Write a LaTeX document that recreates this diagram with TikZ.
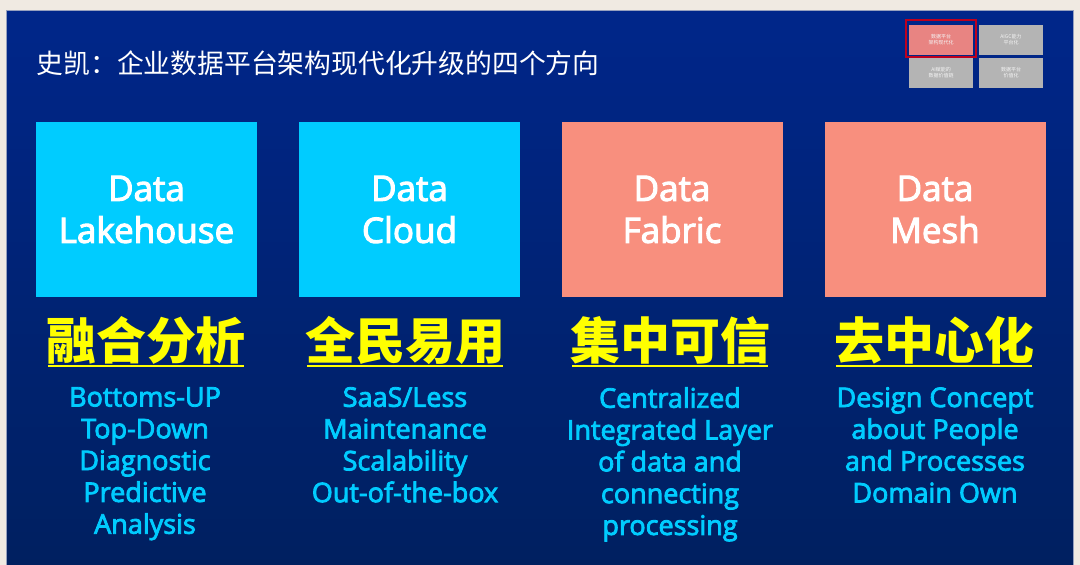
\documentclass[tikz,border=0pt]{standalone}
\usepackage{fontspec}
\setmainfont{Open Sans}
\newfontfamily\sbfont[FakeBold=3]{Open Sans}
\newfontfamily\cjk{Noto Sans CJK SC}
\definecolor{bgbeige}{RGB}{240,234,226}
\definecolor{slidetop}{RGB}{0,38,138}
\definecolor{slidebot}{RGB}{0,32,96}
\definecolor{slideedge}{RGB}{150,160,190}
\definecolor{cyanbox}{RGB}{0,204,255}
\definecolor{salmonbox}{RGB}{248,143,126}
\definecolor{cyantext}{RGB}{0,204,255}
\definecolor{headyellow}{RGB}{255,255,0}
\definecolor{thumbgrey}{RGB}{180,180,180}
\definecolor{thumbpink}{RGB}{232,132,130}
\definecolor{thumbred}{RGB}{190,0,30}
\begin{document}
\begin{tikzpicture}[x=1pt,y=-1pt,
  bigbox/.style={minimum width=221pt, minimum height=175pt, inner sep=0pt, text=white,
    font=\sbfont\fontsize{35}{42}\selectfont, align=center},
  head/.style={inner sep=0pt, text=headyellow, font=\cjk\bfseries\fontsize{50}{50}\selectfont, anchor=base},
  uline/.style={headyellow, line width=2.2pt, shorten <=2.5pt, shorten >=2.5pt},
  desc/.style={inner sep=0pt, text=cyantext, align=center, anchor=north,
    font=\sbfont\fontsize{27}{31.8}\selectfont},
  thumb/.style={minimum width=64pt, minimum height=30pt, inner sep=0pt, fill=thumbgrey,
    text=white!92!gray, align=center, font=\cjk\fontsize{5}{6}\selectfont}
]
\useasboundingbox (0,0) rectangle (1080,565);
\fill[bgbeige] (0,0) rectangle (1080,565);
\shade[top color=slidetop, bottom color=slidebot] (6,10) rectangle (1073,565);
\draw[line width=0.8pt, slideedge] (6,565) -- (6,10) -- (1073,10) -- (1073,565);

% title
\node[anchor=base west, inner sep=0pt, text=white, font=\cjk\fontsize{26.8}{27}\selectfont]
  (title) at (36.5,73) {史凯：企业数据平台架构现代化升级的四个方向};

% thumbnail
\node[thumb, fill=thumbpink] (t1) at (941,40) {数据平台\\架构现代化};
\node[thumb] (t2) at (1011,40) {AIGC能力\\平台化};
\node[thumb] (t3) at (941,73) {AI赋能的\\数据价值链};
\node[thumb] (t4) at (1011,73) {数据平台\\价值化};
\node[draw=thumbred, line width=2pt, minimum width=70pt, minimum height=37pt, inner sep=0pt]
  (t1frame) at (940.5,38) {};

% boxes
\node[bigbox, fill=cyanbox] (b1) at (146.5,209.5) {Data\\Lakehouse};
\node[bigbox, fill=cyanbox] (b2) at (409.5,209.5) {Data\\Cloud};
\node[bigbox, fill=salmonbox] (b3) at (672,209.5) {Data\\Fabric};
\node[bigbox, fill=salmonbox] (b4) at (935,209.5) {Data\\Mesh};

% headings
\node[head] (h1) at (146,359.5) {融合分析};
\node[head] (h2) at (405,359.5) {全民易用};
\node[head] (h3) at (670,359.5) {集中可信};
\node[head] (h4) at (934,359.5) {去中心化};
\foreach \h in {h1,h2,h3,h4}
  \draw[uline] (\h.west |- 0,366) -- (\h.east |- 0,366);

% descriptions
\node[desc] (d1) at (145,387) {Bottoms-UP\\Top-Down\\Diagnostic\\Predictive\\Analysis};
\node[desc] (d2) at (405,387) {SaaS/Less\\Maintenance\\Scalability\\Out-of-the-box};
\node[desc] (d3) at (670,387) {Centralized\\Integrated Layer\\of data and\\connecting\\processing};
\node[desc] (d4) at (935,387) {Design Concept\\about People\\and Processes\\Domain Own};
\end{tikzpicture}
\end{document}
